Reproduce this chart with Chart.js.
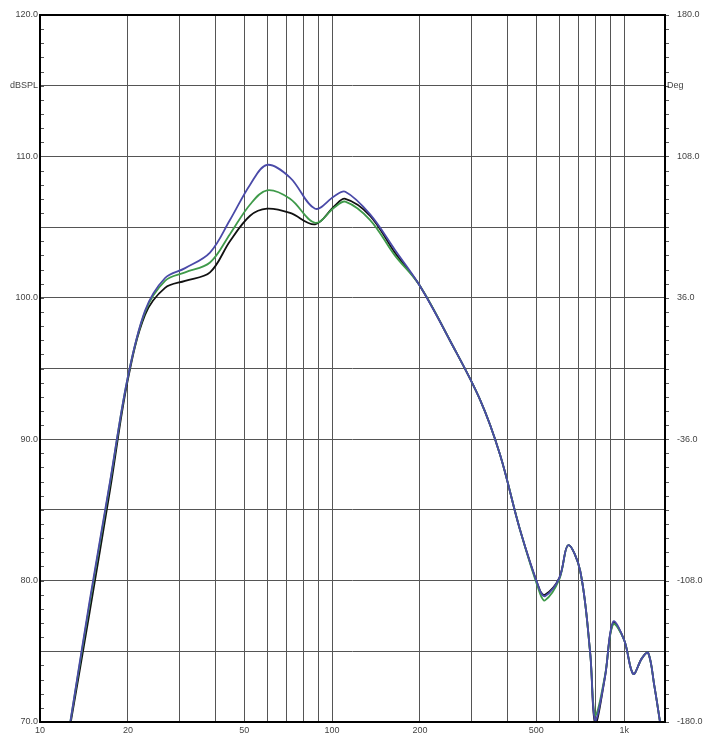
<!DOCTYPE html>
<html>
<head>
<script src="https://cdn.jsdelivr.net/npm/chart.js"></script>
<style>
  html, body { margin: 0; padding: 0; background: #fff; }
  #wrap { width: 705px; height: 742px; }
</style>
</head>
<body>
<div id="wrap"><canvas id="fr"></canvas></div>
<script>
// frequencies (Hz) and SPL (dB)
const freqs = [12.7, 14.8, 17.4, 19.9, 22.9, 26.8, 31.4, 38.2, 44.7, 52.4, 59.9, 71.8, 87.5, 102, 111, 135, 164, 199, 253, 321, 376, 440, 515, 536, 600, 643, 707, 765, 796, 860, 917, 1000, 1074, 1150, 1208, 1270, 1327];
const blueSpl = [70, 78.6, 87.1, 94.2, 99.1, 101.4, 102.1, 103.2, 105.5, 108.0, 109.4, 108.5, 106.3, 107.2, 107.5, 105.9, 103.4, 100.9, 97.0, 92.8, 88.9, 83.6, 79.3, 78.9, 80.2, 82.5, 80.7, 74.9, 70.1, 73.2, 77.1, 75.8, 73.4, 74.5, 74.9, 72.5, 70];
const greenSpl = [70, 78.4, 87.0, 94.2, 99.0, 101.2, 101.8, 102.5, 104.5, 106.6, 107.6, 107.0, 105.3, 106.4, 106.8, 105.5, 103.0, 100.9, 97.0, 92.8, 88.9, 83.6, 79.1, 78.6, 80.1, 82.5, 80.7, 74.9, 70.5, 73.3, 76.9, 75.8, 73.4, 74.5, 74.9, 72.5, 70];
const blackSpl = [69.8, 77.8, 86.5, 94.0, 98.8, 100.7, 101.2, 101.8, 104.0, 105.8, 106.3, 106.0, 105.2, 106.5, 107.0, 105.8, 103.2, 100.9, 97.0, 92.8, 88.9, 83.6, 79.3, 79.0, 80.2, 82.5, 80.7, 74.9, 69.9, 73.2, 77.0, 75.8, 73.4, 74.5, 74.9, 72.5, 70];
const xGrid = [10, 20, 30, 40, 50, 60, 70, 80, 90, 100, 200, 300, 400, 500, 600, 700, 800, 900, 1000];
const xLabels = { 10: '10', 20: '20', 50: '50', 100: '100', 200: '200', 500: '500', 1000: '1k' };

const pts = ys => ys.map((y, i) => ({ x: freqs[i], y }));
const line = (data, color) => ({
  data: pts(data), borderColor: color, borderWidth: 1.8, pointRadius: 0,
  showLine: true, tension: 0.35, fill: false
});

// short minor ticks on both vertical axes, plus thick frame
const frame = {
  id: 'frame',
  afterDraw(chart) {
    const { ctx, chartArea: a, scales } = chart;
    ctx.save();
    ctx.strokeStyle = '#555';
    ctx.lineWidth = 1;
    for (let v = 70; v <= 120; v++) {
      const y = Math.round(scales.y.getPixelForValue(v)) + 0.5;
      ctx.beginPath();
      ctx.moveTo(a.left, y); ctx.lineTo(a.left + 4, y);
      ctx.moveTo(a.right, y); ctx.lineTo(a.right + 4, y);
      ctx.stroke();
    }
    ctx.strokeStyle = '#000';
    ctx.lineWidth = 2;
    ctx.strokeRect(a.left, a.top, a.right - a.left, a.bottom - a.top);
    ctx.font = '9px "Liberation Sans", Arial';
    ctx.fillStyle = '#444';
    ctx.textBaseline = 'middle';
    const yl = scales.y.getPixelForValue(115);
    ctx.textAlign = 'right';
    ctx.fillText('dBSPL', a.left - 2, yl);
    ctx.textAlign = 'left';
    ctx.fillText('Deg', a.right + 2, yl);
    ctx.restore();
  }
};

new Chart(document.getElementById('fr'), {
  type: 'scatter',
  // first dataset is drawn on top
  data: { datasets: [line(blueSpl, '#4a4aa8'), line(greenSpl, '#3f9a4a'), line(blackSpl, '#111111')] },
  options: {
    responsive: true, maintainAspectRatio: false, animation: false,
    layout: { padding: { top: 15, left: 0, right: 0, bottom: 0 } },
    plugins: { legend: { display: false }, tooltip: { enabled: false } },
    scales: {
      x: {
        type: 'logarithmic', min: 10, max: 1380,
        afterBuildTicks: s => { s.ticks = xGrid.map(v => ({ value: v })); },
        afterFit: s => { s.height = 20; },
        grid: { color: '#555', lineWidth: 1, drawTicks: false },
        border: { display: false },
        ticks: {
          autoSkip: false, maxRotation: 0, padding: 3,
          color: '#444', font: { size: 9, family: '"Liberation Sans", Arial' },
          callback: v => xLabels[v] || ''
        }
      },
      y: {
        min: 70, max: 120,
        afterBuildTicks: s => { s.ticks = []; for (let v = 70; v <= 120; v += 5) s.ticks.push({ value: v }); },
        afterFit: s => { s.width = 40; },
        grid: { color: '#555', lineWidth: 1, drawTicks: false },
        border: { display: false },
        ticks: {
          padding: 2, color: '#444', font: { size: 9, family: '"Liberation Sans", Arial' },
          callback: v => v % 10 === 0 ? v.toFixed(1) : ''
        }
      },
      y2: {
        position: 'right', min: -180, max: 180,
        afterBuildTicks: s => { s.ticks = []; for (let v = -180; v <= 180; v += 72) s.ticks.push({ value: v }); },
        afterFit: s => { s.width = 40; },
        grid: { display: false },
        border: { display: false },
        ticks: {
          padding: 4, color: '#444', font: { size: 9, family: '"Liberation Sans", Arial' },
          callback: v => v.toFixed(1)
        }
      }
    }
  },
  plugins: [frame]
});
</script>
</body>
</html>
